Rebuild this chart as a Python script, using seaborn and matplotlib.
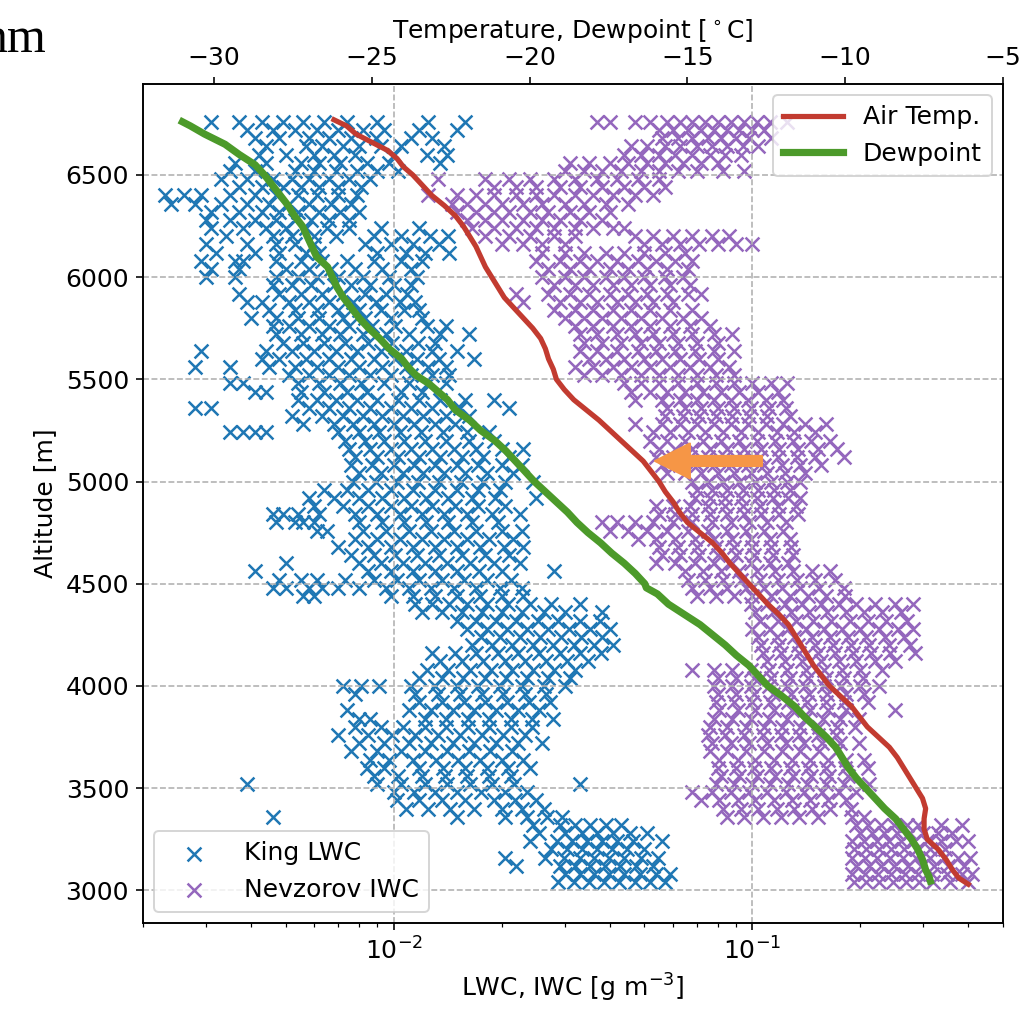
import matplotlib
matplotlib.use("Agg")
import matplotlib.pyplot as plt
import seaborn as sns
import pandas as pd

# ---------------- data ----------------
# King LWC [g m^-3] points, grouped by altitude row [m]
king_rows = [
    (6760, [0.0031, 0.0037, 0.0043, 0.0049, 0.0056, 0.0064, 0.0074, 0.0090, 0.0125, 0.0158]),
    (6720, [0.0039, 0.0046, 0.0053, 0.0061, 0.0070, 0.0082, 0.0094, 0.0118, 0.0150]),
    (6680, [0.0041, 0.0048, 0.0058, 0.0066, 0.0076, 0.0089, 0.0112, 0.0128]),
    (6640, [0.0044, 0.0057, 0.0063, 0.0072, 0.0080, 0.0092, 0.0105, 0.0138]),
    (6600, [0.0042, 0.0050, 0.0060, 0.0068, 0.0078, 0.0100, 0.0124, 0.0141]),
    (6560, [0.0036, 0.0044, 0.0055, 0.0062, 0.0071, 0.0084, 0.0097, 0.0135]),
    (6520, [0.0035, 0.0041, 0.0053, 0.0060, 0.0069, 0.0079, 0.0090, 0.0103]),
    (6480, [0.0033, 0.0039, 0.0046, 0.0052, 0.0058, 0.0066, 0.0075, 0.0086]),
    (6440, [0.0037, 0.0043, 0.0049, 0.0055, 0.0062, 0.0070, 0.0081]),
    (6400, [0.0023, 0.0026, 0.0029, 0.0035, 0.0041, 0.0047, 0.0054, 0.0061, 0.0070, 0.0079]),
    (6360, [0.0024, 0.0028, 0.0033, 0.0039, 0.0045, 0.0051, 0.0058, 0.0067, 0.0076]),
    (6320, [0.0031, 0.0037, 0.0043, 0.0048, 0.0054, 0.0062, 0.0071, 0.0080]),
    (6280, [0.0030, 0.0035, 0.0041, 0.0047, 0.0053, 0.0059, 0.0066, 0.0075]),
    (6240, [0.0031, 0.0038, 0.0044, 0.0050, 0.0057, 0.0065, 0.0075, 0.0092, 0.0118]),
    (6200, [0.0034, 0.0046, 0.0052, 0.0060, 0.0069, 0.0088, 0.0105, 0.0126, 0.0142]),
    (6160, [0.0030, 0.0039, 0.0047, 0.0053, 0.0060, 0.0083, 0.0098, 0.0113, 0.0134]),
    (6120, [0.0032, 0.0041, 0.0048, 0.0057, 0.0062, 0.0090, 0.0108, 0.0122, 0.0143]),
    (6080, [0.0029, 0.0036, 0.0038, 0.0047, 0.0055, 0.0063, 0.0074, 0.0088, 0.0105, 0.0120]),
    (6040, [0.0031, 0.0037, 0.0050, 0.0058, 0.0067, 0.0078, 0.0093, 0.0112]),
    (6000, [0.0030, 0.0036, 0.0047, 0.0054, 0.0061, 0.0070, 0.0082, 0.0097, 0.0116]),
    (5960, [0.0046, 0.0052, 0.0059, 0.0068, 0.0076, 0.0086, 0.0100, 0.0112]),
    (5920, [0.0037, 0.0048, 0.0055, 0.0063, 0.0072, 0.0083, 0.0095, 0.0109]),
    (5880, [0.0039, 0.0043, 0.0051, 0.0058, 0.0066, 0.0077, 0.0089, 0.0104, 0.0115]),
    (5840, [0.0045, 0.0053, 0.0061, 0.0070, 0.0080, 0.0092, 0.0107, 0.0118]),
    (5800, [0.0040, 0.0047, 0.0054, 0.0062, 0.0072, 0.0083, 0.0098, 0.0120]),
    (5760, [0.0046, 0.0051, 0.0058, 0.0066, 0.0075, 0.0087, 0.0101, 0.0124, 0.0140]),
    (5720, [0.0047, 0.0055, 0.0063, 0.0071, 0.0082, 0.0095, 0.0110, 0.0135, 0.0162]),
    (5680, [0.0049, 0.0056, 0.0064, 0.0073, 0.0085, 0.0099, 0.0117, 0.0130]),
    (5640, [0.0029, 0.0044, 0.0052, 0.0060, 0.0069, 0.0079, 0.0092, 0.0108, 0.0128, 0.0150]),
    (5600, [0.0043, 0.0048, 0.0057, 0.0066, 0.0076, 0.0088, 0.0101, 0.0116, 0.0134, 0.0168]),
    (5560, [0.0028, 0.0035, 0.0045, 0.0053, 0.0061, 0.0070, 0.0080, 0.0093, 0.0108, 0.0125, 0.0140]),
    (5520, [0.0051, 0.0058, 0.0066, 0.0075, 0.0086, 0.0098, 0.0112, 0.0128, 0.0143]),
    (5480, [0.0035, 0.0038, 0.0054, 0.0062, 0.0071, 0.0081, 0.0094, 0.0110, 0.0125, 0.0140]),
    (5440, [0.0041, 0.0044, 0.0055, 0.0064, 0.0074, 0.0084, 0.0105, 0.0120]),
    (5400, [0.0054, 0.0061, 0.0069, 0.0079, 0.0090, 0.0103, 0.0118, 0.0135, 0.0158, 0.0190]),
    (5360, [0.0028, 0.0031, 0.0058, 0.0066, 0.0075, 0.0086, 0.0098, 0.0112, 0.0128, 0.0153, 0.0210]),
    (5320, [0.0052, 0.0063, 0.0072, 0.0082, 0.0093, 0.0106, 0.0121, 0.0140, 0.0162]),
    (5280, [0.0056, 0.0068, 0.0077, 0.0088, 0.0100, 0.0114, 0.0130, 0.0148]),
    (5240, [0.0035, 0.0038, 0.0041, 0.0044, 0.0070, 0.0080, 0.0091, 0.0104, 0.0119, 0.0137, 0.0160, 0.0185]),
    (5200, [0.0073, 0.0083, 0.0094, 0.0107, 0.0122, 0.0140, 0.0162, 0.0190]),
    (5160, [0.0075, 0.0086, 0.0098, 0.0112, 0.0128, 0.0147, 0.0170, 0.0200, 0.0230]),
    (5120, [0.0078, 0.0090, 0.0103, 0.0118, 0.0135, 0.0155, 0.0178, 0.0210]),
    (5080, [0.0076, 0.0087, 0.0100, 0.0114, 0.0130, 0.0150, 0.0172, 0.0200, 0.0228]),
    (5040, [0.0080, 0.0092, 0.0106, 0.0121, 0.0138, 0.0158, 0.0182, 0.0215]),
    (5000, [0.0077, 0.0089, 0.0102, 0.0117, 0.0134, 0.0154, 0.0178, 0.0205, 0.0245]),
    (4960, [0.0064, 0.0074, 0.0085, 0.0098, 0.0113, 0.0130, 0.0150, 0.0172, 0.0198]),
    (4920, [0.0058, 0.0068, 0.0080, 0.0093, 0.0107, 0.0123, 0.0142, 0.0165, 0.0192, 0.0250]),
    (4880, [0.0060, 0.0072, 0.0085, 0.0098, 0.0112, 0.0128, 0.0148, 0.0172, 0.0205]),
    (4840, [0.0046, 0.0049, 0.0054, 0.0062, 0.0078, 0.0090, 0.0104, 0.0120, 0.0138, 0.0160, 0.0188, 0.0225]),
    (4800, [0.0047, 0.0053, 0.0056, 0.0060, 0.0080, 0.0093, 0.0107, 0.0123, 0.0142, 0.0165, 0.0195]),
    (4760, [0.0061, 0.0065, 0.0082, 0.0095, 0.0110, 0.0127, 0.0147, 0.0170, 0.0200, 0.0228]),
    (4720, [0.0078, 0.0090, 0.0104, 0.0120, 0.0138, 0.0160, 0.0185, 0.0215]),
    (4680, [0.0070, 0.0085, 0.0098, 0.0113, 0.0130, 0.0150, 0.0174, 0.0203, 0.0230]),
    (4640, [0.0076, 0.0088, 0.0101, 0.0116, 0.0134, 0.0155, 0.0180, 0.0210]),
    (4600, [0.0050, 0.0080, 0.0092, 0.0106, 0.0122, 0.0141, 0.0163, 0.0190, 0.0225]),
    (4560, [0.0041, 0.0085, 0.0098, 0.0113, 0.0130, 0.0150, 0.0173, 0.0200, 0.0280]),
    (4520, [0.0048, 0.0055, 0.0061, 0.0073, 0.0088, 0.0102, 0.0118, 0.0136, 0.0157, 0.0182, 0.0212]),
    (4480, [0.0046, 0.0050, 0.0058, 0.0063, 0.0070, 0.0080, 0.0095, 0.0110, 0.0127, 0.0147, 0.0170, 0.0198, 0.0228]),
    (4440, [0.0056, 0.0060, 0.0098, 0.0113, 0.0130, 0.0150, 0.0174, 0.0200, 0.0230]),
    (4400, [0.0115, 0.0128, 0.0143, 0.0160, 0.0182, 0.0208, 0.0240, 0.0275, 0.0330]),
    (4360, [0.0120, 0.0136, 0.0155, 0.0176, 0.0200, 0.0228, 0.0262, 0.0300, 0.0380]),
    (4320, [0.0150, 0.0170, 0.0193, 0.0220, 0.0252, 0.0288, 0.0330, 0.0375]),
    (4280, [0.0160, 0.0182, 0.0207, 0.0236, 0.0270, 0.0308, 0.0352, 0.0400]),
    (4240, [0.0175, 0.0198, 0.0225, 0.0256, 0.0292, 0.0333, 0.0380]),
    (4200, [0.0165, 0.0188, 0.0214, 0.0244, 0.0278, 0.0318, 0.0362, 0.0410]),
    (4160, [0.0128, 0.0148, 0.0170, 0.0195, 0.0222, 0.0254, 0.0290, 0.0330, 0.0378]),
    (4120, [0.0135, 0.0155, 0.0178, 0.0204, 0.0233, 0.0266, 0.0304, 0.0348]),
    (4080, [0.0124, 0.0142, 0.0163, 0.0187, 0.0214, 0.0245, 0.0280, 0.0320]),
    (4040, [0.0118, 0.0136, 0.0156, 0.0180, 0.0206, 0.0236, 0.0270, 0.0310]),
    (4000, [0.0072, 0.0081, 0.0091, 0.0112, 0.0130, 0.0150, 0.0172, 0.0198, 0.0228, 0.0262, 0.0300]),
    (3960, [0.0078, 0.0115, 0.0133, 0.0153, 0.0176, 0.0202, 0.0232, 0.0266]),
    (3920, [0.0118, 0.0136, 0.0157, 0.0180, 0.0207, 0.0238, 0.0272]),
    (3880, [0.0074, 0.0110, 0.0127, 0.0146, 0.0168, 0.0193, 0.0222, 0.0255]),
    (3840, [0.0080, 0.0086, 0.0122, 0.0140, 0.0161, 0.0185, 0.0212, 0.0243, 0.0278]),
    (3800, [0.0078, 0.0092, 0.0106, 0.0122, 0.0140, 0.0161, 0.0185, 0.0212, 0.0243]),
    (3760, [0.0070, 0.0085, 0.0099, 0.0115, 0.0133, 0.0153, 0.0176, 0.0202, 0.0232]),
    (3720, [0.0080, 0.0094, 0.0110, 0.0127, 0.0146, 0.0168, 0.0193, 0.0222, 0.0260]),
    (3680, [0.0076, 0.0090, 0.0105, 0.0122, 0.0141, 0.0162, 0.0186, 0.0214]),
    (3640, [0.0086, 0.0097, 0.0113, 0.0131, 0.0151, 0.0174, 0.0200, 0.0230]),
    (3600, [0.0084, 0.0094, 0.0118, 0.0137, 0.0158, 0.0182, 0.0209, 0.0240]),
    (3560, [0.0088, 0.0103, 0.0120, 0.0139, 0.0160, 0.0184, 0.0212]),
    (3520, [0.0039, 0.0090, 0.0105, 0.0122, 0.0141, 0.0163, 0.0188, 0.0216, 0.0330]),
    (3480, [0.0100, 0.0114, 0.0130, 0.0150, 0.0175, 0.0205, 0.0235]),
    (3440, [0.0102, 0.0118, 0.0136, 0.0158, 0.0190, 0.0218, 0.0250]),
    (3400, [0.0108, 0.0125, 0.0144, 0.0168, 0.0200, 0.0228, 0.0262]),
    (3360, [0.0046, 0.0150, 0.0205, 0.0235, 0.0268, 0.0295]),
    (3320, [0.0245, 0.0290, 0.0320, 0.0352, 0.0390, 0.0430]),
    (3280, [0.0255, 0.0300, 0.0335, 0.0370, 0.0410, 0.0455, 0.0510]),
    (3240, [0.0240, 0.0285, 0.0315, 0.0345, 0.0380, 0.0420, 0.0465, 0.0560]),
    (3200, [0.0275, 0.0305, 0.0335, 0.0368, 0.0405, 0.0448, 0.0500]),
    (3160, [0.0205, 0.0265, 0.0298, 0.0330, 0.0362, 0.0398, 0.0440, 0.0490, 0.0545]),
    (3120, [0.0220, 0.0290, 0.0320, 0.0352, 0.0388, 0.0428, 0.0475, 0.0530]),
    (3080, [0.0300, 0.0330, 0.0362, 0.0398, 0.0438, 0.0485, 0.0540, 0.0590]),
    (3040, [0.0288, 0.0318, 0.0350, 0.0385, 0.0425, 0.0470, 0.0520, 0.0570]),
]

# Nevzorov IWC [g m^-3] points, grouped by altitude row [m]
nevz_rows = [
    (6760, [0.037, 0.040, 0.047, 0.052, 0.058, 0.063, 0.068, 0.074, 0.080, 0.087, 0.095, 0.103, 0.112, 0.125]),
    (6720, [0.055, 0.060, 0.066, 0.072, 0.078, 0.085, 0.092, 0.100, 0.108]),
    (6680, [0.056, 0.062, 0.068, 0.075, 0.082, 0.090, 0.098, 0.113]),
    (6640, [0.046, 0.051, 0.057, 0.063, 0.070, 0.077, 0.085, 0.094, 0.104]),
    (6600, [0.044, 0.049, 0.055, 0.061, 0.068, 0.076, 0.084, 0.093]),
    (6560, [0.031, 0.035, 0.040, 0.045, 0.051, 0.057, 0.064, 0.072, 0.080]),
    (6520, [0.030, 0.034, 0.038, 0.043, 0.049, 0.055, 0.062, 0.070, 0.083, 0.095]),
    (6480, [0.0133, 0.018, 0.021, 0.024, 0.028, 0.032, 0.037, 0.042, 0.048, 0.055]),
    (6440, [0.019, 0.022, 0.025, 0.029, 0.033, 0.038, 0.044, 0.050, 0.057]),
    (6400, [0.0125, 0.015, 0.017, 0.019, 0.022, 0.025, 0.028, 0.032, 0.036, 0.041, 0.047, 0.053]),
    (6360, [0.0145, 0.016, 0.018, 0.020, 0.023, 0.026, 0.030, 0.034, 0.039, 0.045]),
    (6320, [0.015, 0.017, 0.019, 0.021, 0.024, 0.027, 0.031, 0.035, 0.040]),
    (6280, [0.016, 0.018, 0.020, 0.023, 0.026, 0.029, 0.033, 0.038]),
    (6240, [0.0165, 0.019, 0.022, 0.025, 0.028, 0.032, 0.036, 0.041, 0.044]),
    (6200, [0.018, 0.021, 0.024, 0.028, 0.032, 0.047, 0.053, 0.060, 0.068, 0.077, 0.086]),
    (6160, [0.020, 0.023, 0.026, 0.030, 0.050, 0.056, 0.063, 0.071, 0.080, 0.090, 0.0995]),
    (6120, [0.026, 0.030, 0.034, 0.039, 0.044, 0.050, 0.057, 0.065]),
    (6080, [0.025, 0.029, 0.033, 0.037, 0.042, 0.048, 0.054, 0.061, 0.068]),
    (6040, [0.027, 0.031, 0.035, 0.040, 0.045, 0.051, 0.058, 0.066]),
    (6000, [0.026, 0.030, 0.034, 0.039, 0.044, 0.050, 0.057, 0.064]),
    (5960, [0.028, 0.032, 0.036, 0.041, 0.046, 0.052, 0.059, 0.067]),
    (5920, [0.022, 0.027, 0.031, 0.035, 0.040, 0.045, 0.051, 0.058, 0.066, 0.072]),
    (5880, [0.023, 0.029, 0.033, 0.037, 0.042, 0.047, 0.053, 0.060]),
    (5840, [0.028, 0.032, 0.036, 0.041, 0.046, 0.052, 0.059, 0.068]),
    (5800, [0.030, 0.034, 0.038, 0.043, 0.049, 0.056, 0.064, 0.072]),
    (5760, [0.032, 0.036, 0.041, 0.046, 0.052, 0.059, 0.067, 0.076]),
    (5720, [0.033, 0.037, 0.042, 0.047, 0.053, 0.060, 0.068, 0.078, 0.088]),
    (5680, [0.034, 0.038, 0.043, 0.049, 0.055, 0.062, 0.070, 0.080]),
    (5640, [0.033, 0.037, 0.042, 0.048, 0.054, 0.061, 0.069, 0.078, 0.089]),
    (5600, [0.035, 0.039, 0.044, 0.050, 0.056, 0.063, 0.071, 0.080]),
    (5560, [0.032, 0.036, 0.041, 0.046, 0.052, 0.059, 0.067, 0.076, 0.086]),
    (5520, [0.034, 0.038, 0.043, 0.049, 0.055, 0.062, 0.070, 0.079, 0.089]),
    (5480, [0.044, 0.049, 0.055, 0.062, 0.070, 0.079, 0.089, 0.100, 0.113, 0.125]),
    (5440, [0.046, 0.052, 0.058, 0.065, 0.073, 0.082, 0.092, 0.104, 0.118]),
    (5400, [0.047, 0.056, 0.063, 0.070, 0.078, 0.087, 0.097, 0.109, 0.122]),
    (5360, [0.058, 0.065, 0.072, 0.080, 0.089, 0.099, 0.111, 0.124]),
    (5320, [0.057, 0.064, 0.071, 0.079, 0.088, 0.098, 0.110, 0.127]),
    (5280, [0.047, 0.056, 0.063, 0.070, 0.078, 0.087, 0.097, 0.109, 0.122, 0.140, 0.160]),
    (5240, [0.053, 0.059, 0.066, 0.074, 0.083, 0.093, 0.104, 0.117, 0.131, 0.150]),
    (5200, [0.052, 0.058, 0.065, 0.073, 0.082, 0.092, 0.103, 0.116, 0.130, 0.146, 0.165]),
    (5160, [0.055, 0.061, 0.068, 0.076, 0.085, 0.095, 0.106, 0.119, 0.134, 0.152, 0.172]),
    (5120, [0.054, 0.060, 0.067, 0.075, 0.084, 0.094, 0.105, 0.118, 0.133, 0.150, 0.180]),
    (5080, [0.056, 0.063, 0.070, 0.078, 0.087, 0.097, 0.108, 0.121, 0.136, 0.155]),
    (5040, [0.058, 0.065, 0.072, 0.080, 0.089, 0.099, 0.110, 0.123, 0.140]),
    (5000, [0.068, 0.075, 0.083, 0.092, 0.102, 0.113, 0.125, 0.136]),
    (4960, [0.070, 0.077, 0.085, 0.094, 0.104, 0.115, 0.127]),
    (4920, [0.069, 0.076, 0.084, 0.093, 0.103, 0.114, 0.126, 0.136]),
    (4880, [0.054, 0.060, 0.067, 0.075, 0.084, 0.094, 0.105, 0.118, 0.132]),
    (4840, [0.055, 0.061, 0.068, 0.076, 0.085, 0.095, 0.106, 0.119, 0.134]),
    (4800, [0.038, 0.042, 0.047, 0.053, 0.060, 0.068, 0.077, 0.087, 0.098, 0.110, 0.124]),
    (4760, [0.040, 0.045, 0.051, 0.058, 0.066, 0.075, 0.085, 0.096, 0.108, 0.122]),
    (4720, [0.048, 0.054, 0.061, 0.069, 0.078, 0.088, 0.099, 0.112, 0.127]),
    (4680, [0.055, 0.062, 0.070, 0.079, 0.089, 0.100, 0.113, 0.128]),
    (4640, [0.056, 0.063, 0.071, 0.080, 0.090, 0.101, 0.114, 0.130]),
    (4600, [0.054, 0.061, 0.069, 0.078, 0.088, 0.099, 0.112, 0.126]),
    (4560, [0.065, 0.073, 0.082, 0.092, 0.103, 0.116, 0.130, 0.147, 0.165]),
    (4520, [0.066, 0.074, 0.083, 0.093, 0.105, 0.118, 0.133, 0.150, 0.170]),
    (4480, [0.068, 0.076, 0.085, 0.096, 0.108, 0.121, 0.136, 0.153, 0.180]),
    (4440, [0.070, 0.079, 0.089, 0.100, 0.113, 0.127, 0.143, 0.161, 0.181]),
    (4400, [0.099, 0.110, 0.123, 0.138, 0.155, 0.174, 0.195, 0.220, 0.250, 0.280]),
    (4360, [0.102, 0.114, 0.128, 0.144, 0.162, 0.182, 0.205, 0.230, 0.260]),
    (4320, [0.105, 0.118, 0.132, 0.148, 0.166, 0.187, 0.210, 0.236, 0.270]),
    (4280, [0.100, 0.112, 0.126, 0.141, 0.158, 0.178, 0.200, 0.225, 0.255, 0.280]),
    (4240, [0.104, 0.117, 0.131, 0.147, 0.165, 0.185, 0.208, 0.234, 0.265]),
    (4200, [0.106, 0.119, 0.134, 0.150, 0.168, 0.189, 0.212, 0.240, 0.275]),
    (4160, [0.107, 0.120, 0.135, 0.152, 0.170, 0.191, 0.214, 0.242, 0.285]),
    (4120, [0.110, 0.123, 0.138, 0.155, 0.174, 0.195, 0.220, 0.250]),
    (4080, [0.068, 0.078, 0.088, 0.099, 0.111, 0.125, 0.141, 0.158, 0.178, 0.200, 0.230]),
    (4040, [0.080, 0.090, 0.101, 0.113, 0.127, 0.143, 0.160, 0.180, 0.203]),
    (4000, [0.078, 0.088, 0.099, 0.111, 0.125, 0.140, 0.158, 0.177, 0.200, 0.225]),
    (3960, [0.080, 0.090, 0.101, 0.114, 0.128, 0.144, 0.162, 0.182, 0.205]),
    (3920, [0.079, 0.089, 0.100, 0.112, 0.126, 0.142, 0.160, 0.180, 0.210]),
    (3880, [0.081, 0.091, 0.102, 0.115, 0.129, 0.145, 0.163, 0.183, 0.250]),
    (3840, [0.078, 0.088, 0.099, 0.111, 0.125, 0.140, 0.157, 0.176, 0.198]),
    (3800, [0.076, 0.085, 0.096, 0.108, 0.121, 0.136, 0.153, 0.172, 0.193]),
    (3760, [0.075, 0.084, 0.095, 0.107, 0.120, 0.135, 0.152, 0.171]),
    (3720, [0.077, 0.087, 0.098, 0.110, 0.124, 0.139, 0.156, 0.176, 0.198]),
    (3680, [0.076, 0.085, 0.096, 0.108, 0.121, 0.136, 0.153, 0.172]),
    (3640, [0.081, 0.091, 0.102, 0.115, 0.129, 0.145, 0.163, 0.183, 0.205]),
    (3600, [0.080, 0.090, 0.101, 0.113, 0.127, 0.143, 0.161, 0.181, 0.210]),
    (3560, [0.082, 0.092, 0.103, 0.116, 0.130, 0.146, 0.164, 0.185]),
    (3520, [0.079, 0.089, 0.100, 0.112, 0.126, 0.142, 0.160, 0.180, 0.212]),
    (3480, [0.068, 0.077, 0.087, 0.098, 0.110, 0.124, 0.139, 0.156, 0.175, 0.195]),
    (3440, [0.072, 0.081, 0.091, 0.102, 0.115, 0.129, 0.145, 0.163, 0.183]),
    (3400, [0.083, 0.093, 0.104, 0.117, 0.131, 0.147, 0.165, 0.188]),
    (3360, [0.085, 0.095, 0.107, 0.120, 0.135, 0.152, 0.190, 0.205]),
    (3320, [0.195, 0.210, 0.228, 0.248, 0.270, 0.290, 0.335, 0.385]),
    (3280, [0.200, 0.215, 0.233, 0.253, 0.275, 0.300, 0.330, 0.360]),
    (3240, [0.190, 0.205, 0.222, 0.240, 0.260, 0.282, 0.306, 0.335, 0.370, 0.400]),
    (3200, [0.192, 0.208, 0.225, 0.244, 0.265, 0.288, 0.313, 0.345]),
    (3160, [0.190, 0.206, 0.223, 0.242, 0.263, 0.286, 0.312, 0.342, 0.375, 0.405]),
    (3120, [0.195, 0.211, 0.229, 0.249, 0.271, 0.295, 0.322, 0.352, 0.390]),
    (3080, [0.190, 0.206, 0.224, 0.244, 0.266, 0.290, 0.318, 0.350, 0.385, 0.410]),
    (3040, [0.192, 0.208, 0.226, 0.246, 0.268, 0.292, 0.320, 0.355, 0.400]),
]

# Air temperature profile
temp_alt = [6770, 6740, 6700, 6660, 6620, 6580, 6540, 6500, 6450, 6400, 6350, 6300, 6250,
            6200, 6150, 6100, 6050, 6000, 5950, 5900, 5850, 5800, 5750, 5700, 5650, 5600,
            5550, 5500, 5450, 5400, 5350, 5300, 5250, 5200, 5150, 5100, 5050, 5000, 4950,
            4900, 4850, 4800, 4750, 4700, 4650, 4600, 4550, 4500, 4450, 4400, 4350, 4300,
            4250, 4200, 4150, 4100, 4050, 4000, 3950, 3900, 3850, 3800, 3750, 3700, 3650,
            3600, 3550, 3500, 3450, 3400, 3350, 3300, 3250, 3200, 3150, 3100, 3060, 3030]
temp_c = [-26.2, -25.8, -25.5, -25.0, -24.5, -24.2, -24.0, -23.7, -23.4, -23.1, -22.7, -22.35, -22.1,
          -21.9, -21.7, -21.55, -21.4, -21.2, -21.0, -20.8, -20.5, -20.2, -19.9, -19.65, -19.5, -19.4,
          -19.25, -19.15, -18.9, -18.6, -18.2, -17.8, -17.45, -17.1, -16.75, -16.4, -16.15, -15.9, -15.7,
          -15.45, -15.25, -15.0, -14.6, -14.2, -13.9, -13.65, -13.35, -13.05, -12.75, -12.45, -12.1, -11.8,
          -11.6, -11.4, -11.2, -11.0, -10.75, -10.5, -10.15, -9.8, -9.55, -9.3, -8.95, -8.6, -8.35,
          -8.15, -7.95, -7.75, -7.55, -7.45, -7.5, -7.5, -7.4, -7.05, -6.8, -6.6, -6.4, -6.1]

# Dewpoint profile
dew_alt = [6760, 6740, 6700, 6650, 6600, 6550, 6500, 6450, 6400, 6350, 6300, 6250, 6200, 6150,
           6100, 6050, 6000, 5950, 5900, 5850, 5800, 5750, 5700, 5650, 5600, 5560, 5520, 5480,
           5440, 5400, 5350, 5300, 5250, 5200, 5150, 5100, 5050, 5000, 4950, 4900, 4850, 4800,
           4750, 4700, 4650, 4600, 4550, 4500, 4480, 4450, 4400, 4350, 4300, 4250, 4200, 4150,
           4100, 4050, 4000, 3950, 3900, 3850, 3800, 3750, 3700, 3650, 3600, 3550, 3500, 3450,
           3400, 3350, 3300, 3250, 3200, 3150, 3100, 3070, 3045]
dew_c = [-31.0, -30.75, -30.3, -29.65, -29.2, -28.7, -28.4, -28.15, -27.9, -27.65, -27.45, -27.2, -27.05, -26.9,
         -26.75, -26.4, -26.25, -26.1, -25.9, -25.65, -25.4, -25.1, -24.75, -24.45, -24.05, -23.85, -23.6, -23.2,
         -22.9, -22.6, -22.35, -21.9, -21.55, -21.1, -20.75, -20.45, -20.15, -19.85, -19.5, -19.15, -18.8, -18.5,
         -18.15, -17.75, -17.4, -17.0, -16.65, -16.35, -16.3, -15.95, -15.6, -15.1, -14.6, -14.2, -13.8, -13.45,
         -13.05, -12.75, -12.45, -12.0, -11.6, -11.3, -10.95, -10.6, -10.3, -10.1, -9.9, -9.65, -9.35, -9.05,
         -8.75, -8.4, -8.15, -7.9, -7.7, -7.55, -7.45, -7.35, -7.3]

# ---------------- figure ----------------
plt.rcParams['font.family'] = ['DejaVu Sans']
plt.rcParams['font.size'] = 12.5

king_df = pd.DataFrame([(a, v) for a, vals in king_rows for v in vals], columns=['alt', 'lwc'])
nevz_df = pd.DataFrame([(a, v) for a, vals in nevz_rows for v in vals], columns=['alt', 'iwc'])
temp_df = pd.DataFrame({'alt': temp_alt, 'T': temp_c})
dew_df = pd.DataFrame({'alt': dew_alt, 'T': dew_c})

fig = plt.figure(figsize=(1034 / 144, 1017 / 144), dpi=144)
ax = fig.add_axes([0.1383, 0.0924, 0.970 - 0.1383, 0.9174 - 0.0924])
ax.set_xscale('log')

sns.scatterplot(data=king_df, x='lwc', y='alt', marker='x', color='#1f77b4', s=48,
                linewidth=1.25, label='King LWC', ax=ax)
sns.scatterplot(data=nevz_df, x='iwc', y='alt', marker='x', color='#9467bd', s=48,
                linewidth=1.25, label='Nevzorov IWC', ax=ax)

ax.set_xlim(0.002, 0.5)
ax.set_ylim(2840, 6945)
ax.set_yticks([3000, 3500, 4000, 4500, 5000, 5500, 6000, 6500])
ax.grid(True, which='major', linestyle='--', color='#b0b0b0', linewidth=0.8)
ax.set_xlabel('LWC, IWC [g m$^{-3}$]')
ax.set_ylabel('Altitude [m]')
ax.legend(loc='lower left', handlelength=2.4, borderaxespad=0.45)

ax2 = ax.twiny()
sns.lineplot(data=temp_df, x='T', y='alt', sort=False, estimator=None, color='#c23b30',
             linewidth=2.6, label='Air Temp.', ax=ax2)
sns.lineplot(data=dew_df, x='T', y='alt', sort=False, estimator=None, color='#4c9a2a',
             linewidth=3.6, label='Dewpoint', ax=ax2)
ax2.set_xlim(-32.25, -5)
ax2.set_ylim(2840, 6945)
ax2.set_xticks([-30, -25, -20, -15, -10, -5])
ax2.set_xlabel('Temperature, Dewpoint [$^\\circ$C]')
ax2.set_ylabel('')
ax2.legend(loc='upper right', handlelength=2.4, borderaxespad=0.45)

ax2.annotate('', xy=(0.5953, 0.5507), xytext=(0.7198, 0.5507),
             xycoords='axes fraction', textcoords='axes fraction',
             arrowprops=dict(arrowstyle='simple,head_length=1.0,head_width=1.0,tail_width=0.29',
                             color='#f69646', mutation_scale=17.5, shrinkA=0, shrinkB=0))

fig.text(0.0455, 0.9489, 'nm', ha='right', va='baseline', fontsize=25,
         family=['Liberation Serif', 'DejaVu Serif'])

fig.savefig('out.png', dpi=144)
